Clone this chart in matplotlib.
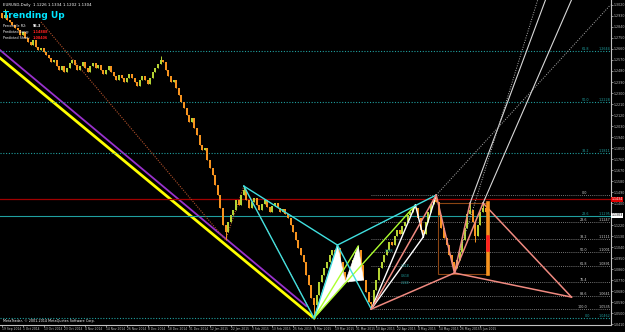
import matplotlib.pyplot as plt
import numpy as np
from matplotlib.patches import Rectangle, Polygon

# daily closes, bar 0 = first visible bar
first_open = 1.2950
closes = [
    1.2913, 1.2937, 1.2897, 1.2880, 1.2856, 1.2831, 1.2815, 1.2774, 1.2799, 1.2750,
    1.2717, 1.2692, 1.2733, 1.2676, 1.2652, 1.2668, 1.2635, 1.2611, 1.2586, 1.2553,
    1.2570, 1.2521, 1.2488, 1.2521, 1.2472, 1.2504, 1.2545, 1.2570, 1.2529, 1.2488,
    1.2521, 1.2553, 1.2504, 1.2472, 1.2521, 1.2545, 1.2504, 1.2529, 1.2488, 1.2455,
    1.2488, 1.2521, 1.2472, 1.2439, 1.2406, 1.2447, 1.2423, 1.2390, 1.2423, 1.2455,
    1.2423, 1.2390, 1.2357, 1.2406, 1.2439, 1.2406, 1.2374, 1.2423, 1.2472, 1.2504,
    1.2537, 1.2570, 1.2553, 1.2488, 1.2439, 1.2390, 1.2406, 1.2341, 1.2284, 1.2227,
    1.2178, 1.2120, 1.2063, 1.2096, 1.2014, 1.1957, 1.1875, 1.1835, 1.1851, 1.1753,
    1.1687, 1.1630, 1.1549, 1.1467, 1.1361, 1.1222, 1.1165, 1.1246, 1.1303, 1.1344,
    1.1426, 1.1385, 1.1467, 1.1508, 1.1426, 1.1361, 1.1410, 1.1442, 1.1385, 1.1344,
    1.1393, 1.1426, 1.1369, 1.1328, 1.1377, 1.1401, 1.1361, 1.1328, 1.1352, 1.1312,
    1.1279, 1.1222, 1.1165, 1.1099, 1.1034, 1.0977, 1.0919, 1.0813, 1.0732, 1.0625,
    1.0568, 1.0650, 1.0756, 1.0813, 1.0870, 1.0919, 1.0977, 1.1017, 1.1001, 1.1034,
    1.0919, 1.0838, 1.0756, 1.0772, 1.0854, 1.0936, 1.1001, 1.1017, 1.0895, 1.0772,
    1.0674, 1.0593, 1.0576, 1.0691, 1.0772, 1.0870, 1.0919, 1.0977, 1.1017, 1.1083,
    1.1058, 1.1132, 1.1181, 1.1148, 1.1214, 1.1246, 1.1303, 1.1328, 1.1361, 1.1361,
    1.1279, 1.1181, 1.1148, 1.1246, 1.1328, 1.1393, 1.1426, 1.1410, 1.1303, 1.1197,
    1.1116, 1.1058, 1.0977, 1.0919, 1.0870, 1.0936, 1.1001, 1.1099, 1.1197, 1.1312,
    1.1344, 1.1246, 1.1132, 1.1222, 1.1328, 1.1361, 1.1328, 1.1295,
]
# wick extremes at the swing bars
high_bars = [1, 61, 93, 129, 137, 159, 167, 180, 185]
high_vals = [1.2990, 1.2600, 1.1540, 1.1060, 1.1050, 1.1385, 1.1467, 1.1401, 1.1401]
low_bars = [86, 120, 142, 162, 174, 182]
low_vals = [1.1099, 1.0462, 1.0535, 1.1124, 1.0830, 1.1083]

# harmonic pattern swing points (bar, price)
X1 = (93, 1.1540)
A1 = (120, 1.0462)
B1 = (129, 1.1058)
B2 = (137, 1.1050)
C1 = (142, 1.0535)
P159 = (159, 1.1385)
P162 = (162, 1.1124)
D1 = (167, 1.1467)
P174 = (174, 1.0830)
P180 = (180, 1.1401)
P185 = (185, 1.1401)
PD = (219, 1.0633)

cyan_legs = [(X1, A1), (X1, B1), (A1, B1), (B1, C1), (B1, D1)]
white_legs = [(C1, P159), (C1, P162), (P159, P162), (P162, D1)]
green_legs = [(A1, B2), (A1, P159)]
pink_legs = [(C1, D1), (D1, P174), (P174, P185), (P185, PD), (C1, P174), (P174, PD), (P174, P180)]

zigzag_bars = [15, 86, 93, 120]
zigzag_vals = [1.2880, 1.1099, 1.1540, 1.0462]

yellow_line = [(-1, 1.2590), (120, 1.0462)]
purple_line = [(-1, 1.2655), (117, 1.0560)]

rays_solid = [((180, 1.1401), (209, 1.3060)), ((185, 1.1401), (219, 1.3060))]
rays_dotted = [((167, 1.1467), (234, 1.3020)), ((176, 1.1001), (206, 1.3060))]

# fibo from the big swing (teal) and from the pink XA leg (grey)
big_fib_ratios = [61.8, 50.0, 38.2, 23.6, 0.0]
big_fib_low, big_fib_high = 1.0462, 1.3993
small_fib_ratios = [0.0, 23.6, 38.2, 50.0, 61.8, 76.4, 88.6, 100.0]

red_line = 1.1434
cur_price = 1.1303

# 1.1310 sits under the current price tag, so it is not shown
y_tick_labels = ["1.3020", "1.2930", "1.2840", "1.2750", "1.2660", "1.2570", "1.2480", "1.2390",
                 "1.2300", "1.2210", "1.2120", "1.2030", "1.1940", "1.1850", "1.1760", "1.1670",
                 "1.1580", "1.1490", "1.1400", "1.1220", "1.1130", "1.1040", "1.0950",
                 "1.0860", "1.0770", "1.0680", "1.0590", "1.0500", "1.0410"]
date_labels = ["19 Sep 2014", "1 Oct 2014", "13 Oct 2014", "23 Oct 2014", "4 Nov 2014",
               "14 Nov 2014", "26 Nov 2014", "8 Dec 2014", "18 Dec 2014", "31 Dec 2014",
               "12 Jan 2015", "22 Jan 2015", "3 Feb 2015", "13 Feb 2015", "25 Feb 2015",
               "9 Mar 2015", "19 Mar 2015", "31 Mar 2015", "10 Apr 2015", "22 Apr 2015",
               "4 May 2015", "14 May 2015", "26 May 2015", "5 Jun 2015"]
date_step = 8

BULL = "#b5d334"
BEAR = "#f7931e"
TEAL = "#20a0a0"
PINK = "#f08a80"

fig = plt.figure(figsize=(6.25, 3.32), dpi=100, facecolor="black")
ax = fig.add_axes([0, 7 / 332, 611 / 625, 325 / 332])
ax.set_facecolor("black")
ax.set_xlim(-0.77, 234.2)
ax.set_ylim(1.0405, 1.3060)

n = len(closes)
x = np.arange(n)
opens = [first_open] + closes[:-1]
highs = [max(o, c) for o, c in zip(opens, closes)]
lows = [min(o, c) for o, c in zip(opens, closes)]
for b, v in zip(high_bars, high_vals):
    highs[b] = v
for b, v in zip(low_bars, low_vals):
    lows[b] = v
cols = [BULL if c >= o else BEAR for o, c in zip(opens, closes)]

# straight trend lines behind candles
ax.plot([p[0] for p in purple_line], [p[1] for p in purple_line], color="#9932cc", lw=1.3, zorder=1)
ax.plot([p[0] for p in yellow_line], [p[1] for p in yellow_line], color="#ffff00", lw=2.0, zorder=1)

# horizontal levels
xl = ax.get_xlim()
for r in big_fib_ratios:
    lvl = big_fib_low + (big_fib_high - big_fib_low) * r / 100
    ls = "-" if r == 23.6 else (0, (1, 1.5))
    ax.axhline(lvl, color=TEAL, lw=0.8, ls=ls, zorder=1)
    ax.text(226, lvl, f"{r:.1f}", color=TEAL, fontsize=2.4, ha="right", va="bottom", zorder=6)
    ax.text(234, lvl, f"{lvl:.4f}", color=TEAL, fontsize=2.4, ha="right", va="bottom", zorder=6)
ax.axhline(red_line, color="#a00000", lw=0.9, zorder=1)

for r in small_fib_ratios:
    lvl = D1[1] - (D1[1] - C1[1]) * r / 100
    ax.plot([C1[0], xl[1]], [lvl, lvl], color="#9a9a9a", lw=0.6, ls=(0, (1, 1.5)), zorder=1)
    ax.text(225, lvl, f"{r:.1f}", color="#d0d0d0", fontsize=2.4, ha="right", va="bottom", zorder=6)
    if r not in (0.0, 76.4):
        ax.text(234, lvl, f"{lvl:.4f}", color="#d0d0d0", fontsize=2.4, ha="right", va="bottom", zorder=6)

# zigzag
ax.plot(zigzag_bars, zigzag_vals, color="#b0502a", lw=0.8, ls=(0, (1, 1.2)), zorder=2)

# candles
ax.vlines(x, lows, highs, colors=cols, lw=0.7, zorder=3)
ax.bar(x, np.array(closes) - np.array(opens), bottom=opens, width=0.75, color=cols, zorder=3)

# white filled triangles of the butterfly
for tri in [[A1, B1, (132, 1.0756)], [(132, 1.0756), B2, (139, 1.0772)]]:
    ax.add_patch(Polygon(tri, closed=True, facecolor="white", edgecolor="white", lw=0.5, zorder=4))


def draw_legs(legs, color, lw):
    for p, q in legs:
        ax.plot([p[0], q[0]], [p[1], q[1]], color=color, lw=lw, zorder=5)


draw_legs(green_legs, "#adff2f", 1.0)
draw_legs(white_legs, "white", 1.0)
draw_legs(cyan_legs, "#40e0e0", 1.0)
draw_legs(pink_legs, PINK, 1.1)

for p, q in rays_solid:
    ax.plot([p[0], q[0]], [p[1], q[1]], color="#d8d8d8", lw=0.8, zorder=5)
for p, q in rays_dotted:
    ax.plot([p[0], q[0]], [p[1], q[1]], color="#b0b0b0", lw=0.7, ls=(0, (1, 1.5)), zorder=5)

# box around the last swing
ax.add_patch(Rectangle((D1[0] + 0.6, P174[1] - 0.0009), 19, P185[1] - P174[1] + 0.0009,
                       fill=False, edgecolor="#8b4513", lw=0.8, zorder=2))
ax.plot([187, 187], [P174[1] - 0.0009, P185[1]], color=BEAR, lw=2.6, zorder=5)
ax.plot([187, 187], [1.1017, 1.1124], color="#ff2020", lw=2.6, zorder=6)

# small ratio labels of the pattern
for bx, py, t in [(149, 1.1000, "0.886"), (155, 1.0880, "1.618"), (155, 1.0800, "0.618"), (155, 1.0740, "2.240")]:
    ax.text(bx, py, t, color=TEAL, fontsize=2.2, ha="center", zorder=6)

# axes decoration
for s in ["left", "top"]:
    ax.spines[s].set_visible(False)
for s in ["right", "bottom"]:
    ax.spines[s].set_color("#c0c0c0")
    ax.spines[s].set_linewidth(0.8)
ax.yaxis.tick_right()
y_ticks = [float(t) for t in y_tick_labels]
ax.set_yticks(y_ticks)
ax.set_yticklabels(y_tick_labels)
ax.tick_params(axis="y", colors="#c0c0c0", labelsize=2.3, length=1.2, width=0.5, pad=0.6)
ax.set_xticks(np.arange(len(date_labels)) * date_step)
ax.set_xticklabels(date_labels, ha="left")
ax.tick_params(axis="x", colors="#c0c0c0", labelsize=2.2, length=1.2, width=0.5, pad=0.3)

# price tags on the axis
ax.text(1.001, red_line, "1.1434", transform=ax.get_yaxis_transform(), color="white", fontsize=2.3,
        va="center", ha="left", zorder=8,
        bbox=dict(boxstyle="square,pad=0.15", fc="#e00000", ec="none"), clip_on=False)
ax.text(1.001, cur_price, "1.1303", transform=ax.get_yaxis_transform(), color="black", fontsize=2.3,
        va="center", ha="left", zorder=8,
        bbox=dict(boxstyle="square,pad=0.15", fc="white", ec="none"), clip_on=False)

# header texts
fig.text(3 / 625, 1 - 5 / 332, "EURUSD,Daily  1.1226 1.1334 1.1202 1.1304", color="white", fontsize=2.8, va="center")
fig.text(3 / 625, 1 - 15 / 332, "Trending Up", color="#00e5ff", fontsize=6.5, fontweight="bold", va="center")
info = [("Percentile R2:", "96.3", "white"), ("Predicted Long:", "1.14888", "#ff2020"),
        ("Predicted Short:", "1.08406", "#ff2020")]
for i, (lab, val, c) in enumerate(info):
    yy = 1 - (26 + 6 * i) / 332
    fig.text(3 / 625, yy, lab, color="white", fontsize=2.4, va="center")
    fig.text(33 / 625, yy, val, color=c, fontsize=2.4, fontweight="bold", va="center")
fig.text(3 / 625, 1 - 321 / 332, "MetaTrader, \u00a9 2001-2014 MetaQuotes Software Corp.", color="white",
         fontsize=2.4, va="center")

fig.savefig("out.png", dpi=100, facecolor="black")
